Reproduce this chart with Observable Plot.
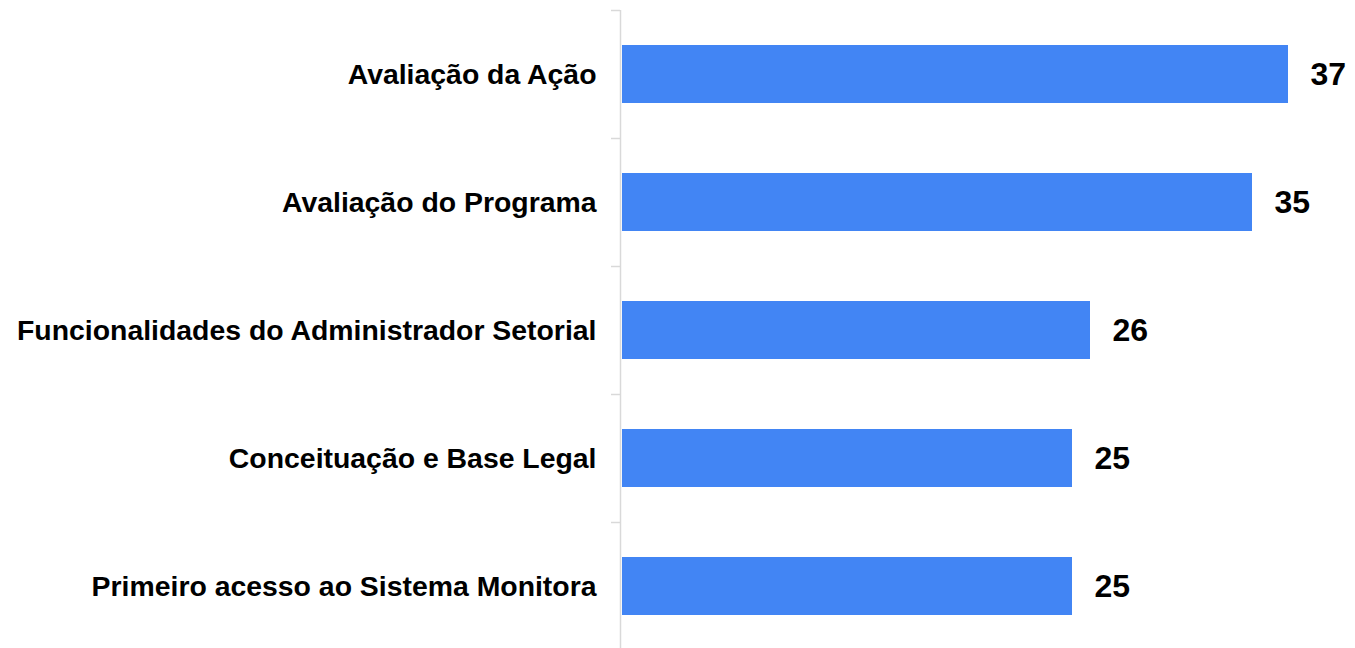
<!DOCTYPE html>
<html>
<head>
<meta charset="utf-8">
<script src="https://cdn.jsdelivr.net/npm/d3@7"></script>
<script src="https://cdn.jsdelivr.net/npm/@observablehq/plot@0.6"></script>
<style>
  html, body { margin: 0; padding: 0; background: #fff; overflow: hidden; }
  #chart svg { display: block; }
</style>
</head>
<body>
<div id="chart"></div>
<script>
const categories = [
  "Avaliação da Ação",
  "Avaliação do Programa",
  "Funcionalidades do Administrador Setorial",
  "Conceituação e Base Legal",
  "Primeiro acesso ao Sistema Monitora"
];
const values = [37, 35, 26, 25, 25];

const data = categories.map((c, i) => ({category: c, value: values[i]}));
const step = (650 - 10) / categories.length;

const chart = Plot.plot({
  width: 1355,
  height: 650,
  marginLeft: 622,
  marginRight: 13,
  marginTop: 10,
  marginBottom: 0,
  style: {fontFamily: "'Liberation Sans', Arial, sans-serif", background: "#fff"},
  x: {domain: [0, 40], axis: null},
  y: {domain: categories, paddingInner: 0.55, paddingOuter: 0.275, label: null},
  marks: [
    Plot.axisY({
      tickSize: 0,
      tickPadding: 26,
      fontSize: 28.4,
      fontWeight: "bold",
      fill: "#000",
      label: null
    }),
    Plot.ruleY(categories, {y: d => d, x1: -0.61, x2: -0.11, dy: -step / 2, stroke: "#d9d9d9", strokeWidth: 1.5}),
    Plot.ruleX([0], {stroke: "#d9d9d9", strokeWidth: 1.5, dx: -2}),
    Plot.barX(data, {x: "value", y: "category", fill: "#4285f4"}),
    Plot.text(data, {
      x: "value", y: "category", text: d => String(d.value),
      dx: 22, textAnchor: "start", fontSize: 32, fontWeight: "bold", fill: "#000"
    })
  ]
});
document.getElementById("chart").appendChild(chart);
</script>
</body>
</html>
